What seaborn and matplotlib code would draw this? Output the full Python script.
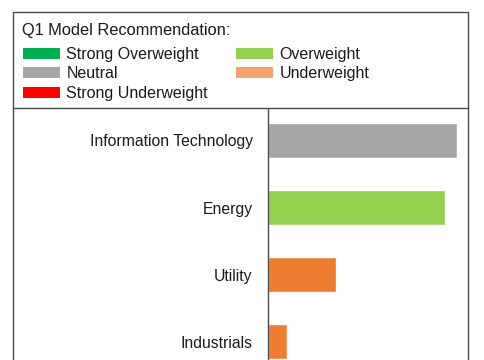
import matplotlib
matplotlib.use("Agg")
import matplotlib.pyplot as plt
from matplotlib.lines import Line2D
from matplotlib.patches import Patch
import seaborn as sns

# data
sectors = ["Information Technology", "Energy", "Utility", "Industrials"]
scores = [9.45, 8.85, 3.4, 0.95]
bar_colors = ["#A6A6A6", "#92D050", "#ED7D31", "#ED7D31"]

legend_title = "Q1 Model Recommendation:"
legend_labels = ["Strong Overweight", "Neutral", "Strong Underweight", "Overweight", "Underweight"]
legend_colors = ["#00B050", "#A6A6A6", "#FF0000", "#92D050", "#F4A26E"]

sns.set_theme(style="white")
plt.rcParams['font.family'] = ['Liberation Sans', 'DejaVu Sans']

W, H = 485, 360
fig = plt.figure(figsize=(4.85, 3.6), dpi=100)

def fx(px):
    return px / W

def fy(py):
    return 1 - py / H

# outer frame + divider between legend and chart
line_kw = dict(color="#4a4a4a", linewidth=1.0, transform=fig.transFigure)
fig.add_artist(Line2D([fx(13), fx(468)], [fy(12), fy(12)], **line_kw))
fig.add_artist(Line2D([fx(13), fx(13)], [fy(12), 0], **line_kw))
fig.add_artist(Line2D([fx(468), fx(468)], [fy(12), 0], **line_kw))
fig.add_artist(Line2D([fx(13), fx(468)], [fy(108), fy(108)], **line_kw))

# legend block
fig.text(fx(22), fy(30), legend_title, fontsize=11.8, color="#1a1a1a",
         ha="left", va="center")
handles = [Patch(facecolor=c, edgecolor="none") for c in legend_colors]
leg = fig.legend(handles, legend_labels, ncol=2, loc="upper left",
                 bbox_to_anchor=(fx(23), fy(47)), frameon=False,
                 fontsize=11.5, handlelength=2.3,
                 handleheight=0.69, handletextpad=0.42, columnspacing=1.75,
                 labelspacing=0.28, borderpad=0, borderaxespad=0)
for t in leg.get_texts():
    t.set_color("#1a1a1a")

# bar chart
ax = fig.add_axes([fx(268), 0, fx(468) - fx(268), fy(108)])
sns.barplot(x=scores, y=sectors, hue=sectors, palette=bar_colors,
            orient="h", width=0.53, legend=False, ax=ax, saturation=1)
ax.set_xlim(0, 10)
ax.set_ylim(3.276, -0.485)
ax.set_xticks([])
ax.set_xlabel("")
ax.set_ylabel("")
ax.tick_params(axis="y", length=0, pad=11, labelsize=11.3, colors="#1a1a1a")
for s in ["top", "right", "bottom"]:
    ax.spines[s].set_visible(False)
ax.spines["left"].set_color("#4a4a4a")
ax.spines["left"].set_linewidth(1.0)

fig.savefig("out.png", dpi=100)
